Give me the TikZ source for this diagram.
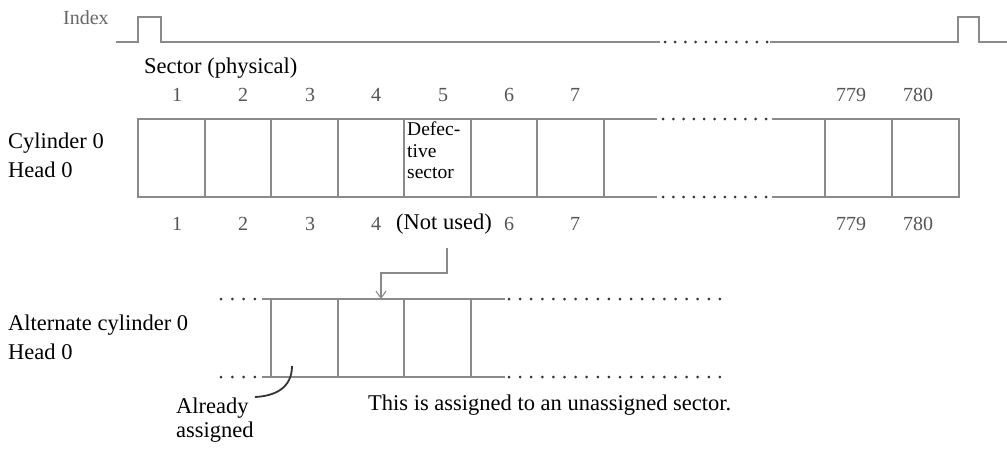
\documentclass[tikz,border=0pt]{standalone}
\usepackage{fontspec}
\setmainfont{Liberation Serif}
\usetikzlibrary{arrows.meta}
\definecolor{ln}{HTML}{8A8A8A}
\definecolor{num}{HTML}{555555}
\tikzset{
  wire/.style={draw=ln, line width=1.1pt},
  lbl/.style={inner sep=0pt, anchor=west, font=\fontsize{22.5}{26}\selectfont},
  numl/.style={inner sep=0pt, text=num, font=\fontsize{20}{23}\selectfont},
  dot/.style={fill=black!80, draw=none},
}
\begin{document}
\begin{tikzpicture}[x=1pt,y=-1pt]
\useasboundingbox (0,0) rectangle (1007,448);
% Index waveform
\node[inner sep=0pt, anchor=west, text=num!90, font=\fontsize{20}{23}\selectfont] (idx) at (63,18) {Index};
\draw[wire] (116,42) -- (138,42) -- (138,17) -- (161,17) -- (161,42) -- (660,42);
\draw[wire] (770,42) -- (958,42) -- (958,17) -- (979,17) -- (979,42) -- (1007,42);
\foreach \i in {0,...,10} \fill[dot] (665+\i*10.2,42) circle (1.5);
% Sector label and numbers
\node[lbl] (sp) at (144,68) {Sector (physical)};
\foreach \x/\t in {177/1,243/2,310/3,376/4,443/5,509/6,575/7,851/779,918/780}
  \node[numl] (t\t) at (\x,95) {\t};
% Cylinder 0 box
\node[lbl] (c0) at (8,143) {Cylinder 0};
\node[lbl] (h0) at (8,170) {Head 0};
\draw[wire] (657,119) -- (138,119) -- (138,197) -- (657,197);
\draw[wire] (772,119) -- (959,119) -- (959,197) -- (772,197);
\foreach \i in {0,...,10} {\fill[dot] (663+\i*10.3,119) circle (1.5); \fill[dot] (663+\i*10.3,197) circle (1.5);}
\foreach \x in {205,271,338,404,471,537,604,825,892} \draw[wire] (\x,119) -- (\x,197);
\node[inner sep=0pt, anchor=north west, align=left, font=\fontsize{19.5}{21.5}\selectfont] (def) at (407,122) {Defec-\\tive\\sector};
% bottom numbers
\foreach \x/\t in {177/1,243/2,310/3,575/7,851/779,918/780}
  \node[numl] (b\t) at (\x,224) {\t};
\node[numl] (b4) at (376,224) {4};
\node[lbl, anchor=center] (nu) at (444,224) {(Not used)};
\node[numl] (b6) at (509,224) {6};
% arrow
\coordinate (a0) at (447,248);
\coordinate (a1) at (381,299);
\draw[wire, -{Straight Barb[length=7pt,width=10pt]}] (a0) -- (447,273) -- (381,273) -- (a1);
% Alternate cylinder box
\node[lbl] (ac) at (8,325) {Alternate cylinder 0};
\node[lbl] (ah) at (8,352) {Head 0};
\draw[wire] (262,299) -- (505,299);
\draw[wire] (262,377) -- (505,377);
\foreach \x in {271,338,404,471} \draw[wire] (\x,299) -- (\x,377);
\foreach \i in {0,...,3} {\fill[dot] (221+\i*11.3,299) circle (1.5); \fill[dot] (221+\i*11.3,377) circle (1.5);}
\foreach \i in {0,...,19} {\fill[dot] (509+\i*11.1,299) circle (1.5); \fill[dot] (509+\i*11.1,377) circle (1.5);}
% already assigned
\node[lbl, align=left, font=\fontsize{22.5}{24}\selectfont, anchor=north west] (aa) at (176,398) {Already\\assigned};
\coordinate (cv) at (292,366);
\draw[line width=1.8pt, black!80] (cv) .. controls (292,388) and (275,396) .. (255,397);
\node[lbl] (tx) at (368,405) {This is assigned to an unassigned sector.};
\end{tikzpicture}
\end{document}
